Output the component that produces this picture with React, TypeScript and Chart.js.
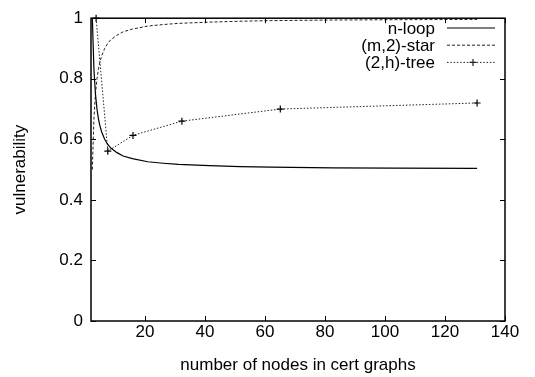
import React, { useEffect, useRef } from "react";
import { Chart, registerables } from "chart.js";

Chart.register(...registerables);

// ---- data ----
const nodeCounts = [2.45, 2.97, 3.48, 3.99, 4.5, 5.02, 5.53, 6.56, 7.58, 8.61, 10.66, 12.71, 15.79, 20.92, 26.05, 31.18, 41.44, 51.7, 61.96, 82.48, 103.0, 130.7];
const loopValues = [1.0, 0.833, 0.75, 0.7, 0.667, 0.643, 0.625, 0.6, 0.583, 0.571, 0.556, 0.545, 0.536, 0.526, 0.521, 0.517, 0.513, 0.51, 0.508, 0.506, 0.505, 0.504];
const starValues = [0.5, 0.667, 0.75, 0.8, 0.833, 0.857, 0.875, 0.9, 0.917, 0.929, 0.944, 0.955, 0.964, 0.974, 0.979, 0.983, 0.987, 0.99, 0.992, 0.994, 0.995, 0.996];
const treeNodes = [3.7, 7.6, 16.0, 32.3, 65.1, 130.7];
const treeValues = [1.0, 0.561, 0.613, 0.66, 0.7, 0.72];

const seriesLabels = ["n-loop", "(m,2)-star", "(2,h)-tree"];
const xTickValues = [20, 40, 60, 80, 100, 120, 140];
const xTickLabels = ["20", "40", "60", "80", "100", "120", "140"];
const yTickValues = [0, 0.2, 0.4, 0.6, 0.8, 1];
const yTickLabels = ["0", "0.2", "0.4", "0.6", "0.8", "1"];
const xTitle = "number of nodes in cert graphs";
const yTitle = "vulnerability";

const FONT_FAMILY = "'Liberation Sans', Arial, Helvetica, sans-serif";
const FONT_SIZE = 17;

const framePlugin = {
  id: "gnuplotFrame",
  afterDatasetsDraw(chart: any) {
    const { ctx, chartArea } = chart;
    const { left, right, top, bottom } = chartArea;
    const tl = 5;
    ctx.save();
    ctx.strokeStyle = "#000";
    ctx.lineWidth = 1;
    ctx.setLineDash([]);
    const xs = chart.scales.x;
    const ys = chart.scales.y;
    ctx.beginPath();
    xTickValues.forEach((v) => {
      const px = Math.round(xs.getPixelForValue(v)) + 0.5;
      ctx.moveTo(px, bottom);
      ctx.lineTo(px, bottom - tl);
      ctx.moveTo(px, top);
      ctx.lineTo(px, top + tl);
    });
    yTickValues.forEach((v) => {
      const py = Math.round(ys.getPixelForValue(v)) + 0.5;
      ctx.moveTo(left, py);
      ctx.lineTo(left + tl, py);
      ctx.moveTo(right, py);
      ctx.lineTo(right - tl, py);
    });
    ctx.stroke();
    ctx.lineWidth = 1.5;
    ctx.strokeRect(left, top, right - left, bottom - top);
    ctx.restore();
  },
};

const legendPlugin = {
  id: "gnuplotLegend",
  afterDatasetsDraw(chart: any) {
    const { ctx } = chart;
    ctx.save();
    ctx.font = `${FONT_SIZE}px ${FONT_FAMILY}`;
    ctx.fillStyle = "#000";
    ctx.textAlign = "right";
    ctx.textBaseline = "alphabetic";
    chart.data.datasets.forEach((ds: any, i: number) => {
      const baseline = 33.5 + i * 17.2;
      const ly = baseline - 5.5;
      ctx.fillText(ds.label, 435, baseline);
      ctx.strokeStyle = ds.borderColor;
      ctx.lineWidth = ds.borderWidth;
      ctx.setLineDash(ds.borderDash || []);
      ctx.beginPath();
      ctx.moveTo(447, ly);
      ctx.lineTo(495, ly);
      ctx.stroke();
      if (ds.pointRadius > 0) {
        ctx.setLineDash([]);
        const r = ds.pointRadius;
        const cx = 473;
        ctx.lineWidth = ds.pointBorderWidth;
        ctx.beginPath();
        ctx.moveTo(cx - r, ly);
        ctx.lineTo(cx + r, ly);
        ctx.moveTo(cx, ly - r);
        ctx.lineTo(cx, ly + r);
        ctx.stroke();
      }
    });
    ctx.restore();
  },
};

export default function App() {
  const ref = useRef<HTMLCanvasElement>(null);

  useEffect(() => {
    const canvas = ref.current!;
    const font = { family: FONT_FAMILY, size: FONT_SIZE };
    const chart = new Chart(canvas, {
      type: "line",
      data: {
        datasets: [
          {
            label: seriesLabels[0],
            data: nodeCounts.map((x, i) => ({ x, y: loopValues[i] })),
            borderColor: "#000",
            borderWidth: 1.2,
            pointRadius: 0,
            tension: 0,
            fill: false,
            clip: false as any,
          },
          {
            label: seriesLabels[1],
            data: nodeCounts.map((x, i) => ({ x, y: starValues[i] })),
            borderColor: "#222",
            borderWidth: 1,
            borderDash: [3, 2],
            pointRadius: 0,
            tension: 0,
            fill: false,
            clip: false as any,
          },
          {
            label: seriesLabels[2],
            data: treeNodes.map((x, i) => ({ x, y: treeValues[i] })),
            borderColor: "#222",
            borderWidth: 1,
            borderDash: [1.5, 1.8],
            pointStyle: "cross",
            pointRadius: 3.5,
            pointBorderWidth: 1.2,
            pointBorderColor: "#000",
            tension: 0,
            fill: false,
            clip: false as any,
          },
        ] as any,
      },
      options: {
        animation: false,
        responsive: false,
        devicePixelRatio: 1,
        events: [],
        layout: { padding: { left: 0, top: 13, right: 30, bottom: 0 } },
        plugins: {
          legend: { display: false },
          tooltip: { enabled: false },
          title: { display: false },
        },
        scales: {
          x: {
            type: "linear",
            min: 2,
            max: 140,
            afterBuildTicks: (s: any) => {
              s.ticks = xTickValues.map((v) => ({ value: v }));
            },
            afterFit: (s: any) => {
              s.height = 56;
            },
            grid: { display: false, drawTicks: false },
            border: { display: false },
            ticks: {
              font,
              color: "#000",
              padding: 1,
              maxRotation: 0,
              autoSkip: false,
              callback: (_v: any, i: number) => xTickLabels[i],
            },
            title: {
              display: true,
              text: xTitle,
              font,
              color: "#000",
              padding: { top: 0, bottom: 1 },
            },
          },
          y: {
            type: "linear",
            min: 0,
            max: 1,
            afterBuildTicks: (s: any) => {
              s.ticks = yTickValues.map((v) => ({ value: v }));
            },
            afterFit: (s: any) => {
              s.width = 91;
            },
            grid: { display: false, drawTicks: false },
            border: { display: false },
            ticks: {
              font,
              color: "#000",
              padding: 8,
              autoSkip: false,
              callback: (_v: any, i: number) => yTickLabels[i],
            },
            title: {
              display: true,
              text: yTitle,
              font,
              color: "#000",
              padding: { top: 10, bottom: 0 },
            },
          },
        },
      } as any,
      plugins: [framePlugin, legendPlugin],
    });
    return () => chart.destroy();
  }, []);

  return (
    <div style={{ position: "fixed", left: 0, top: 0, width: 535, height: 377, background: "#fff" }}>
      <canvas ref={ref} width={535} height={377} style={{ display: "block", width: 535, height: 377 }} />
    </div>
  );
}
